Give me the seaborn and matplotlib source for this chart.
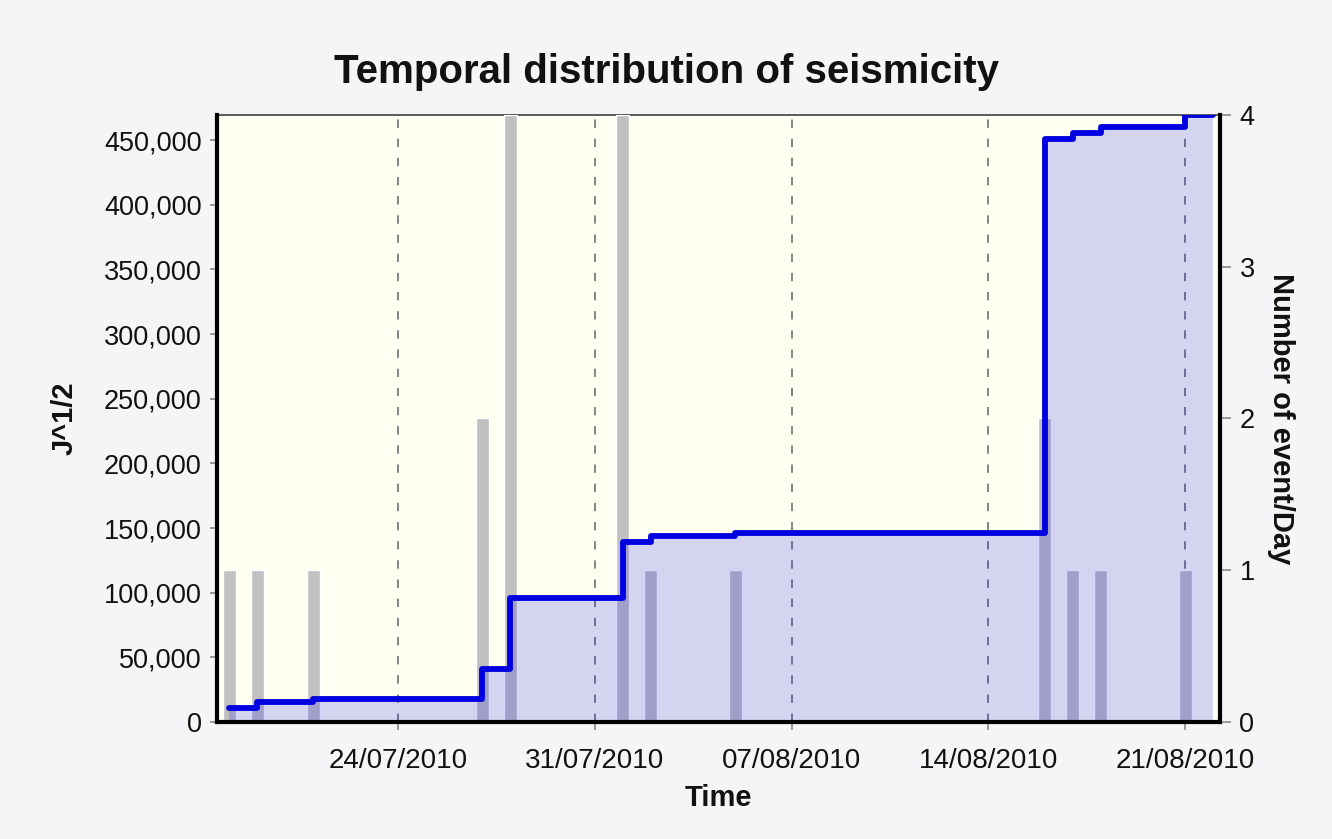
# %% importlar
import matplotlib
matplotlib.use("Agg")
import numpy as np
import pandas as pd
import seaborn as sns
import matplotlib.pyplot as plt
import matplotlib.dates as mdates
import matplotlib.ticker as mticker

# %% veriler
event_dates = ["2010-07-18", "2010-07-19", "2010-07-21", "2010-07-27", "2010-07-28",
               "2010-08-01", "2010-08-02", "2010-08-05", "2010-08-16", "2010-08-17",
               "2010-08-18", "2010-08-21"]
events_per_day = [1, 1, 1, 2, 4, 4, 1, 1, 2, 1, 1, 1]
cum_energy = [10800, 15500, 17800, 41000, 95900, 139400, 143800, 145900,
              450600, 455200, 459800, 469500]
end_date = "2010-08-22"

x_ticks_fmt = "%d/%m/%Y"
title = "Temporal distribution of seismicity"

dates = pd.to_datetime(event_dates)
line_dates = pd.to_datetime(event_dates + [end_date])
line_values = cum_energy + [cum_energy[-1]]

# %% tema
sns.set_style("white")
plt.rcParams["font.family"] = ["Liberation Sans", "DejaVu Sans"]
txt = "#111111"

fig = plt.figure(figsize=(13.32, 8.39), dpi=100, facecolor="#F5F5F7")
ax = fig.add_axes([0.1629, 0.1395, 0.7530, 0.7235])
ax2 = ax.twinx()
ax.set_zorder(ax2.get_zorder() + 1)
ax.patch.set_visible(False)
ax2.patch.set_visible(True)
ax2.patch.set_facecolor("#FEFFF0")

# %% gunluk olay sayisi - gri cubuklar (sag eksen)
ax2.bar(dates, events_per_day, width=0.46, color="#C0C0C0", zorder=3)
ax2.set_ylim(0, 4)
ax2.set_yticks([0, 1, 2, 3, 4])

# dikey kesikli grid cubuklarin arkasinda
ax2.xaxis.set_visible(True)
ax2.tick_params(axis="x", which="both", bottom=False, top=False,
                labelbottom=False, labeltop=False)
ax2.grid(axis="x", color="#707070", linestyle=(0, (5, 6.5)), linewidth=1.2)
ax2.grid(axis="y", visible=False)
ax2.set_axisbelow(True)

# %% kumulatif enerji - alan + mavi basamak cizgisi (sol eksen)
ax.fill_between(line_dates, line_values, step="post", color="#0000F0",
                alpha=0.17, linewidth=0)
sns.lineplot(x=line_dates, y=line_values, drawstyle="steps-post",
             color="#0000E0", linewidth=4.2, ax=ax, zorder=4)
ax.set_ylim(0, 469500)
ax.set_xlim(pd.Timestamp("2010-07-17 13:40"), pd.Timestamp("2010-08-22 05:40"))
ax.yaxis.set_major_locator(mticker.MultipleLocator(50000))
ax.yaxis.set_major_formatter(mticker.StrMethodFormatter("{x:,.0f}"))
ax.xaxis.set_major_locator(mdates.WeekdayLocator(byweekday=mdates.SA))
ax.xaxis.set_major_formatter(mdates.DateFormatter(x_ticks_fmt))
ax.grid(False)

# %% kenarlar ve tickler
for s in ["left", "bottom", "right"]:
    ax.spines[s].set_linewidth(3)
    ax.spines[s].set_color("black")
ax.spines["top"].set_visible(False)
for s in ["left", "bottom", "right"]:
    ax2.spines[s].set_visible(False)
ax2.spines["top"].set_linewidth(1.2)
ax2.spines["top"].set_color("#404040")

ax.tick_params(axis="y", left=True, direction="out", length=5, width=1.2,
               color="#888888", labelsize=19.5, pad=6, labelcolor=txt)
ax.tick_params(axis="x", bottom=True, direction="out", length=6, width=1.2,
               color="#888888", labelsize=20, pad=13, labelcolor=txt)
ax2.tick_params(axis="y", right=True, direction="out", length=8, width=1.2,
                color="#888888", labelsize=19.5, pad=6, labelcolor=txt)

# %% basliklar
ax.set_xlabel("Time", fontsize=21, fontweight="bold", color=txt)
ax.xaxis.set_label_coords(0.5, -0.103)
ax.set_ylabel("J^1/2", fontsize=21, fontweight="bold", color=txt)
ax.yaxis.set_label_coords(-0.138, 0.5)
ax2.set_ylabel("Number of event/Day", fontsize=21, fontweight="bold",
               rotation=270, va="bottom", color=txt)
ax2.yaxis.set_label_coords(1.047, 0.5)
fig.text(0.5, 1 - 72 / 839, title, ha="center", va="center",
         fontsize=29, fontweight="bold", color=txt)

fig.savefig("out.png", dpi=100, facecolor=fig.get_facecolor())
